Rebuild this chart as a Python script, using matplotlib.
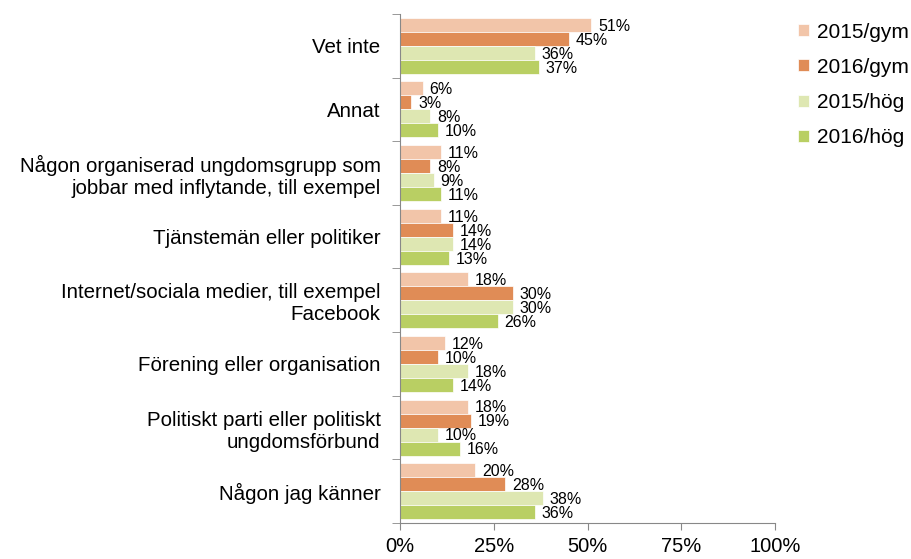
import numpy as np
import matplotlib.pyplot as plt
from matplotlib.ticker import FixedLocator

plt.rcParams["font.family"] = ["Liberation Sans", "DejaVu Sans"]

categories = [
    "Vet inte",
    "Annat",
    "Någon organiserad ungdomsgrupp som\njobbar med inflytande, till exempel",
    "Tjänstemän eller politiker",
    "Internet/sociala medier, till exempel\nFacebook",
    "Förening eller organisation",
    "Politiskt parti eller politiskt\nungdomsförbund",
    "Någon jag känner",
]
series = ["2015/gym", "2016/gym", "2015/hög", "2016/hög"]
values = {
    "2015/gym": [51, 6, 11, 11, 18, 12, 18, 20],
    "2016/gym": [45, 3, 8, 14, 30, 10, 19, 28],
    "2015/hög": [36, 8, 9, 14, 30, 18, 10, 38],
    "2016/hög": [37, 10, 11, 13, 26, 14, 16, 36],
}
colors = ["#F2C5A9", "#E08C56", "#DEE7B2", "#B9CF63"]

fig = plt.figure(figsize=(9.12, 5.59), dpi=100)
ax = fig.add_axes([0.4386, 0.0644, 0.4112, 0.9106])

n = len(categories)
h = 0.22
centers = np.arange(n)
for i, (s, c) in enumerate(zip(series, colors)):
    y = centers - 1.5 * h + i * h
    v = values[s]
    ax.barh(y, v, height=h, color=c, label=s, edgecolor="white", linewidth=0.5)
    for yy, vv in zip(y, v):
        ax.annotate(f"{vv}%", (vv, yy), xytext=(5, -1), textcoords="offset points",
                    va="center", ha="left", fontsize=11.5)

ax.set_ylim(n - 0.5, -0.5)
ax.set_xlim(0, 100)
ax.set_yticks(centers)
ax.set_yticklabels(categories, fontsize=14.8)
ax.tick_params(axis="y", length=0, pad=14)
ax.yaxis.set_minor_locator(FixedLocator(np.arange(-0.5, n, 1)))
ax.tick_params(axis="y", which="minor", length=6, color="#888888", direction="out")
ax.set_xticks([0, 25, 50, 75, 100])
ax.set_xticklabels(["0%", "25%", "50%", "75%", "100%"], fontsize=14.5)
ax.tick_params(axis="x", length=5, color="#888888", pad=5)
for sp in ["top", "right"]:
    ax.spines[sp].set_visible(False)
for sp in ["left", "bottom"]:
    ax.spines[sp].set_color("#888888")

ax.legend(loc="upper left", bbox_to_anchor=(1.012, 1.02), frameon=False,
          fontsize=15, handlelength=0.5, handleheight=0.5, handletextpad=0.4,
          labelspacing=0.78)

fig.savefig("out.png", dpi=100)
